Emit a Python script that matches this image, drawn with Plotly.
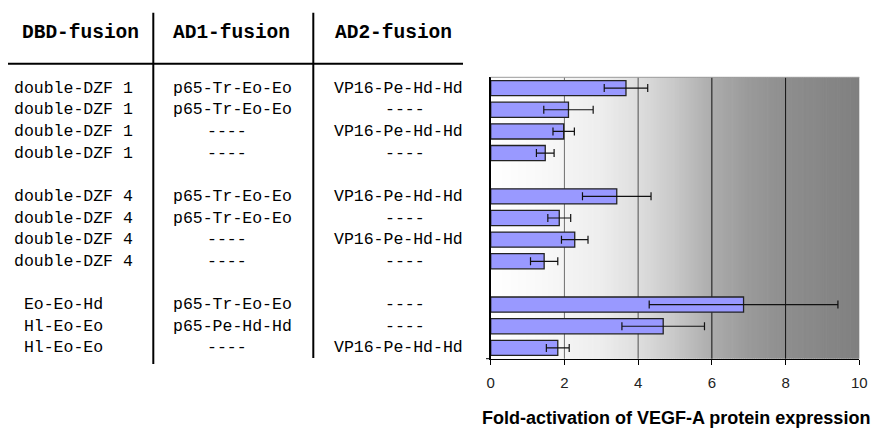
import plotly.graph_objects as go

W, H = 873, 429

# Construct table
dbd = ["double-DZF 1", "double-DZF 1", "double-DZF 1", "double-DZF 1",
       "double-DZF 4", "double-DZF 4", "double-DZF 4", "double-DZF 4",
       " Eo-Eo-Hd", " Hl-Eo-Eo", " Hl-Eo-Eo"]
ad1 = ["p65-Tr-Eo-Eo", "p65-Tr-Eo-Eo", "----", "----",
       "p65-Tr-Eo-Eo", "p65-Tr-Eo-Eo", "----", "----",
       "p65-Tr-Eo-Eo", "p65-Pe-Hd-Hd", "----"]
ad2 = ["VP16-Pe-Hd-Hd", "----", "VP16-Pe-Hd-Hd", "----",
       "VP16-Pe-Hd-Hd", "----", "VP16-Pe-Hd-Hd", "----",
       "----", "----", "VP16-Pe-Hd-Hd"]
headers = ["DBD-fusion", "AD1-fusion", "AD2-fusion"]

# Row slots (blank slot between construct groups)
slots = [0, 1, 2, 3, 5, 6, 7, 8, 10, 11, 12]

# Fold-activation of VEGF-A protein expression (mean, error)
fold = [3.67, 2.11, 1.98, 1.48, 3.42, 1.86, 2.28, 1.45, 6.86, 4.68, 1.82]
err = [0.59, 0.67, 0.29, 0.24, 0.93, 0.31, 0.36, 0.37, 2.56, 1.12, 0.31]

x_ticks = [0, 2, 4, 6, 8, 10]
x_title = "Fold-activation of VEGF-A protein expression"

# plot-area geometry (pixels)
PX0, PX1, PY0, PY1 = 490.7, 859.3, 77.3, 358.7
YDOM = [1 - PY1 / H, 1 - PY0 / H]

# white -> gray backdrop, stops as (x value, gray level)
grad_stops = [(0, 255), (1.5, 248), (3, 237), (4, 222), (5, 200),
              (6, 172), (7, 154), (8, 142), (10, 128)]


def gray_at(v):
    for (xa, ga), (xb, gb) in zip(grad_stops[:-1], grad_stops[1:]):
        if xa <= v <= xb:
            g = ga + (gb - ga) * (v - xa) / (xb - xa)
            g = int(round(g))
            return "rgb(%d,%d,%d)" % (g, g, g)
    return "rgb(128,128,128)"


shapes = []
n_strips = 200
for i in range(n_strips):
    a, b = 10 * i / n_strips, 10 * (i + 1) / n_strips
    shapes.append(dict(type="rect", xref="x", yref="paper", x0=a, x1=b + 0.02,
                       y0=YDOM[0], y1=YDOM[1], layer="below",
                       fillcolor=gray_at((a + b) / 2), line=dict(width=0)))
# vertical gridlines
grid_col = {2: "#707070", 4: "#505050", 6: "#111111", 8: "#111111"}
for t in x_ticks[1:-1]:
    shapes.append(dict(type="line", xref="x", yref="paper", x0=t, x1=t,
                       y0=YDOM[0], y1=YDOM[1], layer="below",
                       line=dict(color=grid_col[t], width=1)))
# top border of plot area
shapes.append(dict(type="line", xref="paper", yref="paper", x0=PX0 / W, x1=PX1 / W,
                   y0=YDOM[1], y1=YDOM[1], line=dict(color="#9a9a9a", width=1)))
# small tick left of the axis corner
shapes.append(dict(type="line", xref="paper", yref="paper", x0=486 / W, x1=PX0 / W,
                   y0=YDOM[0], y1=YDOM[0], line=dict(color="black", width=1)))
# table rules
shapes += [
    dict(type="line", xref="paper", yref="paper", x0=8 / W, x1=463 / W,
         y0=1 - 63.7 / H, y1=1 - 63.7 / H, line=dict(color="black", width=2)),
    dict(type="line", xref="paper", yref="paper", x0=153.3 / W, x1=153.3 / W,
         y0=1 - 12.7 / H, y1=1 - 364 / H, line=dict(color="black", width=2)),
    dict(type="line", xref="paper", yref="paper", x0=313.3 / W, x1=313.3 / W,
         y0=1 - 12.7 / H, y1=1 - 358 / H, line=dict(color="black", width=2)),
]

fig = go.Figure()
fig.add_trace(go.Bar(
    x=fold, y=slots, orientation="h", width=0.7,
    marker=dict(color="#9999ff", line=dict(color="#222222", width=1.3)),
    error_x=dict(type="data", array=err, visible=True, color="#111111",
                 thickness=1.2, width=4),
    showlegend=False))

mono = "Liberation Mono, Courier New, monospace"
ann = []
hx = [80, 231, 393]
for h, x in zip(headers, hx):
    ann.append(dict(text="<b>%s</b>" % h, x=x / W, y=1 - 33 / H, xref="paper",
                    yref="paper", xanchor="center", yanchor="middle",
                    showarrow=False, font=dict(family=mono, size=19.5, color="black")))
for s, a, b, c in zip(slots, dbd, ad1, ad2):
    ann.append(dict(text=a.replace(" ", "\u00a0"), x=12 / W, y=s, xref="paper", yref="y",
                    xanchor="left", yanchor="middle", showarrow=False,
                    font=dict(family=mono, size=16.5, color="black")))
    ann.append(dict(text=b, x=(227 if b == "----" else 232) / W, y=s, xref="paper",
                    yref="y", xanchor="center", yanchor="middle", showarrow=False,
                    font=dict(family=mono, size=16.5, color="black")))
    ann.append(dict(text=c, x=(405 if c == "----" else 398) / W, y=s, xref="paper",
                    yref="y", xanchor="center", yanchor="middle", showarrow=False,
                    font=dict(family=mono, size=16.5, color="black")))
ann.append(dict(text="<b>%s</b>" % x_title, x=676 / W, y=1 - 418 / H, xref="paper",
                yref="paper", xanchor="center", yanchor="middle", showarrow=False,
                font=dict(family="Liberation Sans, Arial, sans-serif", size=18,
                          color="black")))

fig.update_layout(
    template="none",
    width=W, height=H, autosize=False,
    margin=dict(l=0, r=0, t=0, b=0, pad=0),
    paper_bgcolor="white", plot_bgcolor="white",
    annotations=ann, shapes=shapes,
    xaxis=dict(domain=[PX0 / W, PX1 / W], range=[0, 10], tickvals=x_ticks,
               automargin=False, showgrid=False, zeroline=False,
               showline=True, linecolor="black", linewidth=1,
               ticks="outside", ticklen=5, tickcolor="black", tickwidth=1,
               ticklabelstandoff=5,
               tickfont=dict(family="Liberation Sans Narrow, Arial Narrow, sans-serif",
                             size=15, color="#222222")),
    yaxis=dict(domain=YDOM, range=[12.5, -0.5], automargin=False,
               showticklabels=False, showgrid=False, zeroline=False,
               showline=True, linecolor="black", linewidth=1.5, ticks=""),
)

fig.write_html("out.html")
